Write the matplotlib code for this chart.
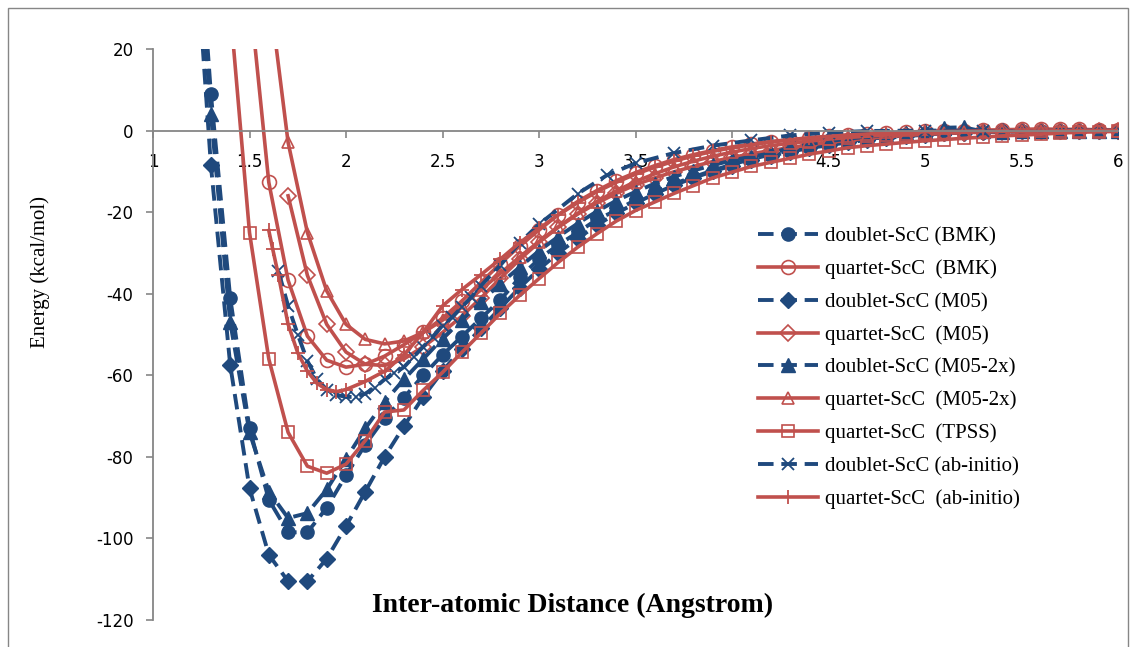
import matplotlib
matplotlib.use('Agg')
import matplotlib.pyplot as plt
from matplotlib.patches import Rectangle
from matplotlib.ticker import MultipleLocator, FuncFormatter

plt.rcParams['axes.unicode_minus'] = False

# Potential energy curves of ScC, doublet vs quartet, several functionals
r_grid = [1.2, 1.3, 1.4, 1.5, 1.6, 1.7, 1.8, 1.9, 2.0, 2.1,
          2.2, 2.3, 2.4, 2.5, 2.6, 2.7, 2.8, 2.9, 3.0, 3.1,
          3.2, 3.3, 3.4, 3.5, 3.6, 3.7, 3.8, 3.9, 4.0, 4.1,
          4.2, 4.3, 4.4, 4.5, 4.6, 4.7, 4.8, 4.9, 5.0, 5.1,
          5.2, 5.3, 5.4, 5.5, 5.6, 5.7, 5.8, 5.9, 6.0]

doublet_bmk = [75, 9, -41, -73, -90.5, -98.5, -98.5, -92.5, -84.5, -77,
               -70.5, -65.5, -60, -55, -50.5, -46, -41.5, -36, -31.5, -28,
               -25, -21.8, -19.6, -17, -15, -13, -11.4, -9.8, -8.3, -7,
               -5.9, -4.9, -4, -3.3, -2.6, -2.1, -1.6, -1.2, -0.9, -0.6,
               -0.4, -0.3, -0.2, -0.1, -0.1, 0, 0, 0, 0]

quartet_bmk = [34, -12.7, -36.7, -50.4, -56.3, -58, -57.3, -55.3, -52.5, -49.5,
               -46, -41.8, -37.2, -32.6, -28.3, -24.4, -20.6, -17.4, -14.7, -12.3,
               -10.3, -8.6, -7.1, -5.9, -4.9, -4, -3.3, -2.7, -2.2, -1.8,
               -1.4, -1.1, -0.8, -0.6, -0.4, -0.2, -0.1, 0, 0.1, 0.2,
               0.3, 0.4, 0.3, 0.3, 0.2, 0.2]

doublet_m05 = [60, -8.5, -57.5, -87.7, -104, -110.5, -110.5, -105, -97, -88.5,
               -80, -72.5, -65.3, -59, -53.5, -48.5, -43.5, -38.5, -34, -30,
               -26.5, -23.2, -20.3, -17.8, -15.5, -13.4, -11.6, -10, -8.6, -7.3,
               -6.2, -5.2, -4.3, -3.6, -2.9, -2.3, -1.8, -1.4, -1, -0.7,
               -0.5, -0.3, -0.2, -0.1, -0.1, 0, 0, 0, 0]

quartet_m05 = [-16, -35.5, -47.5, -54.3, -57.3, -57.6, -56, -53, -49.5, -45.5,
               -41, -36.2, -31.6, -27.4, -23.7, -20.5, -17.8, -15.4, -13.3, -11.6,
               -10.1, -8.8, -7.6, -6.6, -5.7, -4.9, -4.2, -3.5, -2.9, -2.4,
               -1.9, -1.5, -1.2, -0.9, -0.7, -0.5, -0.4, -0.3, -0.2, -0.1,
               -0.1, 0, 0, 0]

doublet_m05_2x = [68, 4, -47, -74, -88.5, -95, -93.8, -88, -80.5, -73,
                  -66.5, -61, -56, -51, -46.5, -42, -37.5, -33.5, -29.5, -26,
                  -22.8, -19.8, -17.2, -15, -13, -11.3, -9.8, -8.5, -7.3, -6.4,
                  -5.6, -4.2, -3.3, -2.6, -2, -1.5, -1.1, -0.6, -0.1, 0.7,
                  0.8, -0.2, -0.3, -0.2, -0.1, 0, 0, 0, 0]

quartet_m05_2x = [35, -2.9, -25, -39.3, -47.5, -51.2, -52.3, -51.6, -49.5, -46.5,
                  -43, -39, -35, -31, -27.2, -23.6, -20.3, -17.4, -14.8, -12.5,
                  -10.6, -8.9, -7.5, -6.3, -5.3, -4.4, -3.7, -3.1, -2.6, -2.1,
                  -1.7, -1.4, -1.1, -0.9, -0.7, -0.5, -0.4, -0.3, -0.2, -0.2,
                  -0.1, -0.1, 0, 0, 0]

quartet_tpss = [30, -25, -56, -74, -82.3, -84, -81.8, -76, -69, -68.5,
                -63.7, -59.3, -54.4, -49.6, -44.8, -40.4, -36.3, -32.3, -28.6, -25.3,
                -22.2, -19.6, -17.5, -15.4, -13.5, -11.6, -10.2, -8.8, -7.8, -6.8,
                -5.8, -5, -4.2, -3.7, -3.3, -2.9, -2.5, -2.2, -1.9, -1.6,
                -1.3, -1.1, -0.9, -0.6, -0.4, -0.3, -0.2]

r_ab_doublet = [1.65, 1.7, 1.75, 1.8, 1.85, 1.9, 1.95, 2.0, 2.05, 2.1,
                2.15, 2.2, 2.25, 2.3, 2.35, 2.4, 2.45, 2.5, 2.55, 2.6,
                2.65, 2.7, 2.8, 2.9, 3.0, 3.2, 3.35, 3.5, 3.7, 3.9,
                4.1, 4.3, 4.5, 4.7, 5.0, 5.3]
doublet_ab = [-34.5, -43, -50, -56.5, -61, -63.5, -64.8, -65.3, -65.3, -64.5,
              -63, -61, -59.5, -58, -55.5, -53, -50.5, -47.8, -45.8, -43.3,
              -40.8, -38, -33, -27.5, -23, -15.5, -11, -8, -5.5, -3.7,
              -2.4, -1.2, -0.5, -0.1, 0, 0]

r_ab_quartet = [1.6, 1.62, 1.65, 1.7, 1.75, 1.8, 1.85, 1.9, 1.95, 2.0,
                2.1, 2.2, 2.3, 2.4, 2.5, 2.6, 2.7, 2.8, 2.9, 3.0,
                3.1, 3.2, 3.3, 3.4, 3.5, 3.6, 3.7, 3.8, 3.9, 4.0,
                4.2, 4.4, 4.6, 4.8, 5.0, 5.3]
quartet_ab = [-24.5, -29, -35.5, -47.5, -54.5, -59, -62, -63.5, -64, -63.5,
              -61.5, -59, -55, -49.5, -43, -39, -35.3, -31.5, -27.5, -24,
              -20.7, -17.7, -15, -12.7, -10.7, -9, -7.5, -6.2, -5.1, -4.2,
              -2.8, -1.8, -1.1, -0.6, -0.3, -0.1]

BLUE = '#1F497D'
RED = '#C0504D'
GREY = '#868686'
SERIF = ['Liberation Serif', 'DejaVu Serif']

fig = plt.figure(figsize=(11.35, 6.47), dpi=100)
ax = fig.add_axes([153 / 1135, 1 - 620 / 647, (1118 - 153) / 1135, (620 - 49) / 647])

dashed = dict(color=BLUE, lw=2.8, ls=(0, (4, 2)))
solid = dict(color=RED, lw=2.6, ls='-')

series = [
    (r_grid, doublet_bmk, 'doublet-ScC (BMK)', dashed,
     dict(marker='o', ms=9.5, mfc=BLUE, mec=BLUE)),
    (r_grid[3:], quartet_bmk, 'quartet-ScC  (BMK)', solid,
     dict(marker='o', ms=10, mfc='none', mec=RED, mew=1.2)),
    (r_grid, doublet_m05, 'doublet-ScC (M05)', dashed,
     dict(marker='D', ms=8.5, mfc=BLUE, mec=BLUE)),
    (r_grid[5:], quartet_m05, 'quartet-ScC  (M05)', solid,
     dict(marker='D', ms=8, mfc='none', mec=RED, mew=1.2)),
    (r_grid, doublet_m05_2x, 'doublet-ScC (M05-2x)', dashed,
     dict(marker='^', ms=9.5, mfc=BLUE, mec=BLUE)),
    (r_grid[4:], quartet_m05_2x, 'quartet-ScC  (M05-2x)', solid,
     dict(marker='^', ms=9, mfc='none', mec=RED, mew=1.2)),
    (r_grid[2:], quartet_tpss, 'quartet-ScC  (TPSS)', solid,
     dict(marker='s', ms=8.5, mfc='none', mec=RED, mew=1.2)),
    (r_ab_doublet, doublet_ab, 'doublet-ScC (ab-initio)', dashed,
     dict(marker='x', ms=8, mec=BLUE, mew=1.3)),
    (r_ab_quartet, quartet_ab, 'quartet-ScC  (ab-initio)', solid,
     dict(marker='+', ms=10, mec=RED, mew=1.3)),
]

for r, e, label, line_kw, marker_kw in series:
    ax.plot(r, e, label=label, **line_kw, **marker_kw)

ax.set_xlim(1, 6)
ax.set_ylim(-120, 20)

# x axis crosses at zero energy, Excel-style
ax.spines['bottom'].set_position(('data', 0))
ax.spines['top'].set_visible(False)
ax.spines['right'].set_visible(False)
for side in ('left', 'bottom'):
    ax.spines[side].set_color(GREY)
    ax.spines[side].set_linewidth(1.3)

ax.xaxis.set_major_locator(MultipleLocator(0.5))
ax.yaxis.set_major_locator(MultipleLocator(20))
ax.xaxis.set_major_formatter(FuncFormatter(lambda v, p: f'{v:g}'))
ax.tick_params(axis='x', direction='out', length=5, width=1.2, color=GREY,
               labelsize=12, pad=11)
ax.tick_params(axis='y', direction='out', length=5, width=1.2, color=GREY,
               labelsize=12, pad=9)

ax.text(0.435, 0.026, 'Inter-atomic Distance (Angstrom)', transform=ax.transAxes,
        ha='center', va='center', fontsize=20, fontweight='bold', family=SERIF)
fig.text(40 / 1135, 1 - 272 / 647, 'Energy (kcal/mol)', rotation=90,
         ha='center', va='center', fontsize=15, family=SERIF)

ax.legend(loc='upper left', bbox_to_anchor=(0.618, 0.703), frameon=False,
          prop={'family': SERIF, 'size': 15}, handlelength=2.9,
          handletextpad=0.35, labelspacing=0.63, borderaxespad=0)

# chart area outline
fig.patches.append(Rectangle((8 / 1135, -0.05), 1120 / 1135, 1.05 - 8 / 647,
                             transform=fig.transFigure, fill=False,
                             edgecolor=GREY, lw=1.0))

fig.savefig('out.png', dpi=100, facecolor='white')
